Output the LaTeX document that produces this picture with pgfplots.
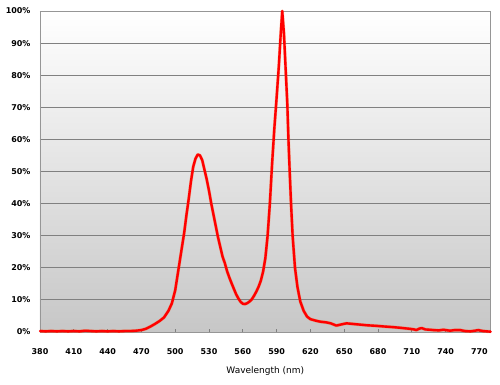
\documentclass[border=0pt]{standalone}
\usepackage{pgfplots}
\pgfplotsset{compat=1.18}
\usepackage{fontspec}
\setmainfont{DejaVu Sans}
\usetikzlibrary{shadings}
\pgfplotstableread{
x y
380 0.3
385 0.2
390 0.3
395 0.2
400 0.3
405 0.2
410 0.3
415 0.2
420 0.4
425 0.3
430 0.2
435 0.3
440 0.2
445 0.3
450 0.2
455 0.3
460 0.3
465 0.4
470 0.6
474 1.0
478 1.7
482 2.5
486 3.4
490 4.5
494 6.6
497 8.9
500 13
502 17.5
504 22
506 26.5
508 31
510 36.5
512 41.5
514 47
516 51.5
518 54
520 55.3
522 55
524 53.5
526 50.5
528 47.5
530 44
532 40
534 36.5
536 33
538 29.5
540 26.5
542 23.5
544 21.5
546 19
548 17
550 15.2
552 13.5
554 11.8
556 10.5
558 9.4
560 8.8
562 8.7
564 9
566 9.5
568 10.2
570 11.3
572 12.6
574 14.1
576 16
578 18.8
580 23
582 30
584 40
586 52.5
588 63.5
590 73
592 83
593.5 92
595 100
596.5 93
598 82
599.5 71
600.5 60
601.6 50
602.8 40
604.2 30
606.3 20
608.5 14
611 9.5
614 6.6
617 4.8
620 4.0
625 3.5
629 3.2
634 3.0
638 2.7
643 2.0
648 2.4
652 2.7
658 2.5
664 2.3
670 2.1
679 1.9
686 1.7
694 1.5
700 1.3
708 1.0
712 0.8
714 0.6
717 1.1
719 1.2
722 0.8
726 0.7
729 0.6
734 0.5
738 0.7
744 0.4
748 0.6
753 0.6
757 0.3
762 0.2
766 0.4
769 0.6
773 0.3
780 0.1
}\spectrum
\definecolor{gridgray}{RGB}{128,128,128}
\definecolor{bordergray}{RGB}{150,150,150}
\begin{document}
\begin{tikzpicture}
\useasboundingbox (0,0) rectangle (500pt,385pt);
\begin{axis}[
  at={(40pt,53pt)}, anchor=south west,
  scale only axis, width=450.7pt, height=321pt,
  xmin=380, xmax=780, ymin=0, ymax=100,
  xtick={380,410,...,770},
  ytick={0,10,...,100},
  yticklabel={\pgfmathprintnumber{\tick}\%},
  xtick pos=bottom, ytick pos=left,
  major tick length=3pt,
  ytick style={draw=none},
  xtick style={gridgray, line width=0.8pt},
  ymajorgrids,
  grid style={gridgray, line width=0.9pt},
  axis line style={bordergray, line width=0.9pt},
  axis background/.style={top color=white, bottom color=black!22},
  tick label style={font=\fontsize{8}{9}\selectfont\bfseries},
  /pgf/number format/assume math mode=true,
  xticklabel style={yshift=-13pt},
  yticklabel style={xshift=-6pt},
  xlabel={Wavelength (nm)},
  every axis x label/.style={at={(axis description cs:0.5,0)}, anchor=center, yshift=-39pt, font=\fontsize{9}{10}\selectfont},
  clip=false,
]
\addplot[draw=orange!60!red, line width=3.2pt, opacity=0.35, line join=round] table[x=x,y=y] {\spectrum};
\addplot[draw=red, line width=2.4pt, line join=round, line cap=round] table[x=x,y=y] {\spectrum};
\end{axis}
\end{tikzpicture}
\end{document}
